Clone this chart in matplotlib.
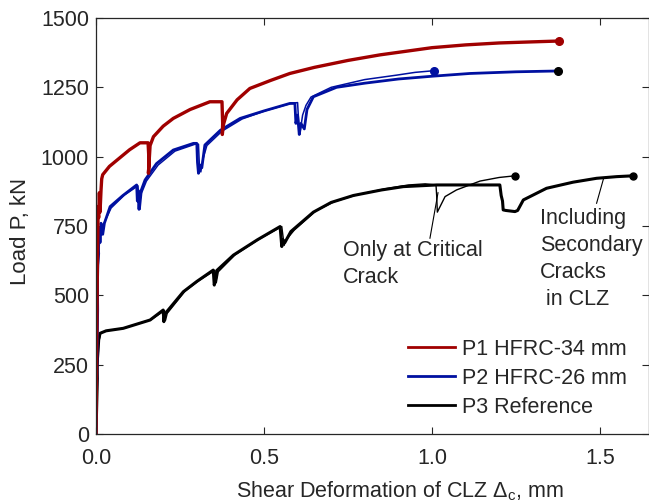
import matplotlib
matplotlib.use("Agg")
import matplotlib.pyplot as plt

plt.rcParams['font.family'] = ['Liberation Sans', 'DejaVu Sans']
plt.rcParams['mathtext.fontset'] = 'custom'
plt.rcParams['mathtext.rm'] = 'Liberation Sans'
plt.rcParams['mathtext.it'] = 'Liberation Sans'

# P1 HFRC-34 mm
p1_x = [0, 0.002, 0.004, 0.006, 0.005, 0.008, 0.010, 0.012, 0.015, 0.017, 0.020, 0.040, 0.070, 0.100,
        0.131, 0.155, 0.158, 0.156, 0.159, 0.161, 0.171, 0.200, 0.230, 0.280, 0.339, 0.375, 0.377,
        0.376, 0.378, 0.389, 0.420, 0.458, 0.520, 0.577, 0.650, 0.750, 0.845, 1.000, 1.100, 1.200,
        1.300, 1.378]
p1_y = [0, 300, 600, 760, 820, 780, 870, 800, 880, 920, 935, 965, 995, 1025,
        1050, 1050, 980, 940, 1000, 1040, 1072, 1110, 1138, 1170, 1198, 1198, 1120,
        1080, 1110, 1156, 1205, 1246, 1275, 1300, 1322, 1347, 1367, 1393, 1403, 1410,
        1414, 1417]

# P2 HFRC-26 mm, including secondary cracks
p2_x = [0, 0.003, 0.005, 0.004, 0.008, 0.006, 0.010, 0.012, 0.015, 0.020, 0.025, 0.042, 0.080,
        0.121, 0.123, 0.125, 0.128, 0.130, 0.135, 0.146, 0.180, 0.230, 0.290, 0.300, 0.302, 0.305,
        0.310, 0.315, 0.324, 0.370, 0.429, 0.500, 0.577, 0.592, 0.595, 0.600, 0.605, 0.610, 0.620,
        0.628, 0.647, 0.716, 0.800, 0.900, 1.000, 1.113, 1.250, 1.375]
p2_y = [0, 250, 450, 600, 650, 700, 740, 690, 760, 720, 760, 820, 860,
        898, 840, 880, 810, 850, 880, 916, 975, 1024, 1048, 1048, 980, 940,
        970, 960, 1042, 1095, 1138, 1165, 1192, 1192, 1120, 1150, 1080, 1120, 1100,
        1170, 1216, 1250, 1265, 1280, 1290, 1300, 1306, 1309]

# P2, only at critical crack
p2c_x = [0, 0.004, 0.008, 0.012, 0.020, 0.045, 0.085, 0.125, 0.128, 0.131, 0.136, 0.150, 0.185,
         0.235, 0.295, 0.305, 0.308, 0.312, 0.318, 0.330, 0.375, 0.435, 0.505, 0.580, 0.600,
         0.603, 0.606, 0.610, 0.615, 0.625, 0.640, 0.700, 0.800, 0.895, 0.950, 1.006]
p2c_y = [0, 400, 650, 720, 750, 815, 862, 895, 830, 810, 870, 912, 970,
         1020, 1045, 1045, 960, 945, 990, 1040, 1092, 1136, 1166, 1192, 1195,
         1130, 1080, 1110, 1150, 1185, 1215, 1250, 1278, 1294, 1304, 1310]

# P3 Reference, including secondary cracks
p3_x = [0, 0.002, 0.004, 0.003, 0.006, 0.008, 0.012, 0.030, 0.081, 0.161, 0.200, 0.202, 0.205,
        0.210, 0.260, 0.300, 0.349, 0.352, 0.356, 0.360, 0.409, 0.480, 0.548, 0.553, 0.557, 0.562,
        0.580, 0.647, 0.700, 0.766, 0.850, 0.915, 1.014, 1.100, 1.202, 1.206, 1.210, 1.212, 1.220,
        1.247, 1.255, 1.272, 1.341, 1.420, 1.490, 1.550, 1.599]
p3_y = [0, 100, 200, 250, 300, 340, 363, 372, 381, 411, 447, 405, 430,
        440, 513, 550, 591, 537, 560, 590, 645, 700, 748, 676, 700, 690,
        730, 800, 835, 860, 880, 892, 898, 898, 898, 860, 840, 808, 806,
        802, 806, 844, 886, 908, 922, 928, 931]

# P3, only at critical crack
p3c_x = [0, 0.004, 0.008, 0.014, 0.035, 0.085, 0.165, 0.204, 0.207, 0.212, 0.265, 0.305, 0.354,
         0.358, 0.364, 0.414, 0.485, 0.553, 0.560, 0.566, 0.590, 0.655, 0.710, 0.775, 0.860,
         0.930, 0.980, 1.012, 1.014, 1.016, 1.020, 1.039, 1.073, 1.143, 1.200, 1.247]
p3c_y = [0, 200, 330, 365, 373, 382, 413, 445, 410, 435, 515, 552, 590,
         545, 585, 646, 702, 748, 680, 700, 735, 805, 838, 862, 884,
         898, 902, 898, 860, 800, 810, 856, 880, 912, 925, 931]

red = '#a00000'
blue = '#0010a0'
txt = '#262626'
fs = 15.5

fig = plt.figure(figsize=(6.49, 5.04), dpi=100)
ax = fig.add_axes([96/649, 1 - 434/504, 553/649, 416/504])

ax.plot(p3_x, p3_y, color='black', lw=2.2, solid_joinstyle='round')
ax.plot(p3c_x, p3c_y, color='black', lw=1.0)
ax.plot(p2_x, p2_y, color=blue, lw=2.0, solid_joinstyle='round')
ax.plot(p2c_x, p2c_y, color=blue, lw=1.1)
ax.plot(p1_x, p1_y, color=red, lw=2.4, solid_joinstyle='round')

ax.plot(p1_x[-1], p1_y[-1], 'o', color=red, ms=5.5)
ax.plot(p2c_x[-1], p2c_y[-1], 'o', color=blue, ms=5.5)
ax.plot(p2_x[-1], p2_y[-1], 'o', color='black', ms=5.5)
ax.plot(p3c_x[-1], p3c_y[-1], 'o', color='black', ms=5)
ax.plot(p3_x[-1], p3_y[-1], 'o', color='black', ms=5)

# annotations
ax.plot([0.994, 1.018], [706, 870], color='black', lw=0.8)
ax.text(0.735, 613, 'Only at Critical\nCrack', fontsize=fs, color=txt,
        va='center', ha='left', linespacing=1.38)
ax.plot([1.49, 1.51], [832, 918], color='black', lw=0.8)
ax.text(1.321, 631, 'Including\nSecondary\nCracks\n in CLZ', fontsize=fs, color=txt,
        va='center', ha='left', linespacing=1.38)

ax.set_xlim(0, 1.646)
ax.set_ylim(0, 1500)
ax.set_xticks([0, 0.5, 1.0, 1.5])
ax.set_xticklabels(['0.0', '0.5', '1.0', '1.5'])
ax.set_yticks([0, 250, 500, 750, 1000, 1250, 1500])
ax.tick_params(direction='in', top=True, right=True, labelsize=fs, colors=txt,
               length=5, width=0.8)
ax.tick_params(axis='x', pad=10)
ax.tick_params(axis='y', pad=5)
for s in ax.spines.values():
    s.set_linewidth(0.9)
    s.set_color(txt)

ax.set_xlabel(r'Shear Deformation of CLZ $\Delta_c$, mm', fontsize=fs, color=txt)
ax.xaxis.set_label_coords(0.55, -0.152)
ax.xaxis.label.set_va('baseline')
ax.set_ylabel('Load P, kN', fontsize=16, color=txt)
ax.yaxis.set_label_coords(-0.137, 0.487)
ax.yaxis.label.set_va('center')

handles = [plt.Line2D([], [], color=red, lw=2),
           plt.Line2D([], [], color=blue, lw=2),
           plt.Line2D([], [], color='black', lw=2)]
fig.legend(handles, ['P1 HFRC-34 mm', 'P2 HFRC-26 mm', 'P3 Reference'],
           loc='upper left', bbox_to_anchor=(408/649, 1 - 339/504), frameon=False,
           fontsize=fs, handlelength=2.2, handletextpad=0.3, borderpad=0,
           borderaxespad=0, labelspacing=0.37, labelcolor=txt)

fig.savefig('out.png', dpi=100)
